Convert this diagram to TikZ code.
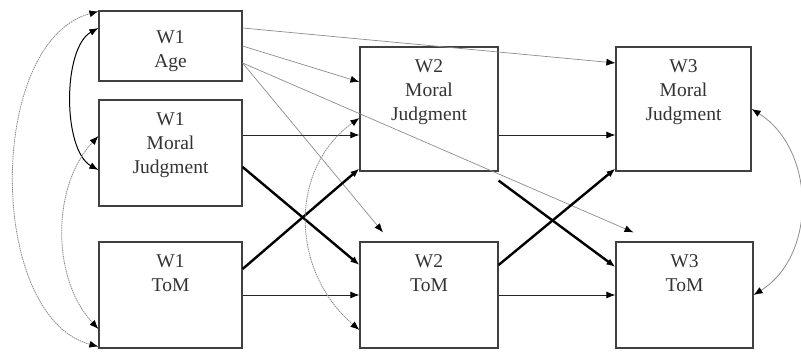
\documentclass[tikz,border=0pt]{standalone}
\usepackage{fontspec}
\setmainfont{Liberation Serif}
\usetikzlibrary{arrows.meta}
\newcommand{\boxcolor}{black!75!white}
\newcommand{\pathcolor}{black!85!white}
\newcommand{\corcolor}{black!45!white}
\newcommand{\txtcolor}{black!80!white}

\begin{document}
\begin{tikzpicture}[x=1pt, y=1pt, >={Latex[length=9pt,width=7pt,color=black]},
        var/.style={draw=\boxcolor, line width=1.2pt, inner sep=0pt},
        varname/.style={anchor=north, inner sep=0pt, align=center, text=\txtcolor,
            font=\fontsize{19.5}{24}\selectfont},
        stab/.style={->, draw=\pathcolor, line width=0.9pt},
        cross/.style={->, draw=black, line width=2.4pt},
        agepath/.style={->, draw=\corcolor, line width=0.7pt},
        cor/.style={<->, draw=\corcolor, line width=0.8pt, dash pattern=on 1.5pt off 0.7pt}]
        \useasboundingbox (0, 0) rectangle (801, 352);

        % draw the boxes of the three waves
        \foreach \n/\cx/\cy/\w/\h/\dy/\t in {w1age/170.5/306/143/70/20/{W1\\Age},
                w1mj/170.5/199/143/106/13/{W1\\Moral\\Judgment},
                w1tom/170.5/57/143/106/13/{W1\\ToM},
                w2mj/429/243/138/124/13/{W2\\Moral\\Judgment},
                w2tom/429/57/138/106/13/{W2\\ToM},
                w3mj/683.5/243/135/124/13/{W3\\Moral\\Judgment},
                w3tom/684.5/57/137/106/13/{W3\\ToM}}
        {
            \node[var, minimum width=\w pt, minimum height=\h pt] (\n) at (\cx, \cy) {};
            \node[varname, yshift=-\dy pt] (\n-txt) at (\n.north) {\t};
        }

        % paths from age
        \draw[agepath] ([yshift=18pt]w1age.east) -- ([yshift=46pt]w3mj.west);
        \draw[agepath] (w1age.east) -- ([yshift=27pt]w2mj.west);
        \draw[agepath] ([yshift=-17pt]w1age.east) -- ([xshift=-46pt, yshift=9pt]w2tom.north);
        \draw[agepath] ([yshift=-17pt]w1age.east) -- ([xshift=-51pt, yshift=9pt]w3tom.north);

        % stability paths
        \draw[stab] ([yshift=18pt]w1mj.east) -- ([yshift=-26pt]w2mj.west);
        \draw[stab] ([yshift=-26pt]w2mj.east) -- ([yshift=-26pt]w3mj.west);
        \draw[stab] (w1tom) -- (w2tom);
        \draw[stab] (w2tom) -- (w3tom);

        % cross-lagged paths
        \draw[cross] ([yshift=-14pt]w1mj.east) -- ([yshift=30pt]w2tom.west);
        \draw[cross] ([yshift=26pt]w1tom.east) -- ([yshift=3pt]w2mj.south west);
        \draw[cross] ([yshift=-9pt]w2mj.south east) -- ([yshift=28pt]w3tom.west);
        \draw[cross] ([yshift=30pt]w2tom.east) -- ([yshift=3pt]w3mj.south west);

        % correlations
        \draw[cor] ([yshift=-1pt]w1age.north west) .. controls +(-112, -30) and +(-112, 30) .. ([yshift=2pt]w1tom.south west);
        \draw[<->, draw=black, line width=1pt] ([yshift=18pt]w1age.west) .. controls +(-36, -20) and +(-36, 20) .. ([yshift=-17pt]w1mj.west);
        \draw[cor] ([yshift=17pt]w1mj.west) .. controls +(-47, -50) and +(-47, 50) .. ([yshift=-34pt]w1tom.west);
        \draw[cor] ([yshift=-9pt]w2mj.west) .. controls +(-70, -50) and +(-70, 60) .. ([yshift=-35pt]w2tom.west);
        \draw[cor, solid] (w3mj.east) .. controls +(64, -40) and +(64, 40) .. (w3tom.east);
\end{tikzpicture}
\end{document}
